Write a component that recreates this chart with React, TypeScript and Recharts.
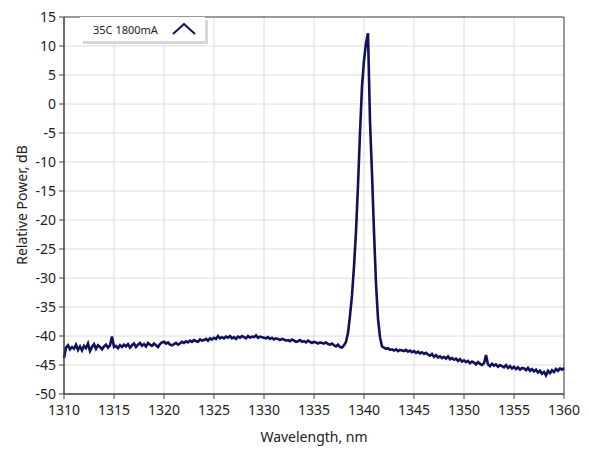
import { LineChart, Line, XAxis, YAxis, CartesianGrid, Legend, ReferenceArea } from 'recharts'

const seriesName = '35C 1800mA'
const xTicks = [1310, 1315, 1320, 1325, 1330, 1335, 1340, 1345, 1350, 1355, 1360]
const yTicks = [15, 10, 5, 0, -5, -10, -15, -20, -25, -30, -35, -40, -45, -50]

// samples every 0.2 nm starting at 1310 nm
const leftBaseline = [
  -43.8, -42.0, -41.6, -42.3, -41.9, -42.2, -41.5, -42.4, -41.8, -42.5,
  -41.7, -42.1, -41.3, -42.6, -41.9, -41.4, -42.2, -41.6, -41.9, -42.3,
  -41.8, -41.5, -42.0, -41.6, -40.1, -41.9, -41.7, -42.1, -41.6, -41.9,
  -41.5, -41.8, -41.4, -42.0, -41.6, -41.3, -41.9, -41.5, -41.2, -41.7,
  -41.4, -41.8, -41.2, -41.5, -41.7, -41.3, -41.6, -41.9, -41.4, -41.1,
  -41.0, -41.3, -41.1, -41.5, -41.6, -41.4, -41.2, -41.5, -41.3, -41.0,
  -41.2, -40.9, -41.1, -40.8, -41.0, -40.7, -40.9, -41.0, -40.6, -40.8,
  -40.7, -40.5, -40.8, -40.4, -40.6, -40.3, -40.5, -40.0, -40.4, -40.2,
  -40.4, -40.1, -40.3, -40.0, -40.4, -40.2, -40.5, -40.1, -40.3, -40.0,
  -40.2, -40.4, -40.0, -40.3, -40.1, -40.2, -39.9, -40.3, -40.1, -40.2,
  -40.3, -40.4, -40.2, -40.5, -40.3, -40.6, -40.4, -40.5, -40.7, -40.5,
  -40.6, -40.8, -40.7, -40.9, -40.6, -40.8, -41.0, -40.9, -40.7, -41.0,
  -40.9, -41.1, -40.8, -41.0, -41.2, -41.0, -41.1, -41.3, -41.1, -41.2,
  -41.3, -41.1, -41.4, -41.5, -41.3, -41.6, -41.8, -41.5, -41.9, -42.0,
  -41.6,
]

const peak = [
  -41.0, -39.5, -36.5, -33.0, -28.0, -22.0, -14.0, -5.0, 3.0, 7.5,
  10.5, 12.2, -3.0, -12.0, -22.0, -31.0, -37.0, -40.2, -41.8,
]

const rightBaseline = [
  -42.0, -42.2, -42.1, -42.4, -42.3, -42.5, -42.3, -42.6, -42.4, -42.5,
  -42.6, -42.4, -42.7, -42.5, -42.8, -42.6, -42.9, -42.7, -43.0, -42.8,
  -43.1, -42.9, -43.2, -43.4, -43.1, -43.6, -43.3, -43.7, -43.5, -43.8,
  -43.6, -43.9, -43.5, -44.0, -43.8, -44.1, -43.9, -44.3, -44.0, -44.4,
  -44.2, -44.5, -44.3, -44.7, -44.4, -44.6, -44.9, -44.5, -44.8, -45.0,
  -44.7, -43.3, -44.9, -45.2, -44.8, -45.1, -44.9, -45.3, -45.0, -45.2,
  -45.4, -45.0, -45.5, -45.2, -45.6, -45.3, -45.7, -45.4, -45.8, -45.5,
  -45.6, -45.9, -45.5, -46.0, -45.7, -46.1, -45.8, -46.3, -46.0, -46.5,
  -46.2, -46.8, -46.0, -46.4, -45.9, -46.2, -45.7, -46.0, -45.6, -45.8,
  -45.5,
]

const power = [...leftBaseline, ...peak, ...rightBaseline]
const data = power.map((p, i) => ({ wl: Math.round((1310 + i * 0.2) * 10) / 10, p }))

const lineColor = '#10105c'
const font = "'Noto Sans', sans-serif"

const LegendBox = () => (
  <div
    style={{
      width: 112,
      height: 24,
      paddingLeft: 13,
      background: '#fff',
      boxShadow: '3px 3px 0 #d6d6d6',
      display: 'flex',
      alignItems: 'center',
      fontFamily: font,
      fontSize: 11,
      color: '#222',
    }}
  >
    <span>{seriesName}</span>
    <svg width={24} height={12} style={{ marginLeft: 14 }}>
      <polyline points="1,11 12,1 23,11" fill="none" stroke={lineColor} strokeWidth={2} />
    </svg>
  </div>
)

export default function App() {
  return (
    <div style={{ position: 'absolute', left: 0, top: 0, background: '#fff' }}>
      <LineChart width={589} height={456} data={data} margin={{ top: 17, right: 25, bottom: 0, left: 0 }}>
        <CartesianGrid stroke="#dcdcdc" />
        <XAxis
          dataKey="wl"
          type="number"
          domain={[1310, 1360]}
          ticks={xTicks}
          height={62}
          tickSize={5}
          tickMargin={6}
          stroke="#444"
          tick={{ fill: '#222', fontSize: 14, fontFamily: font }}
          label={{ value: 'Wavelength, nm', position: 'insideBottom', offset: 14, fill: '#222', fontSize: 14, fontFamily: font }}
        />
        <YAxis
          type="number"
          domain={[-50, 15]}
          ticks={yTicks}
          width={64}
          tickSize={5}
          tickMargin={3}
          stroke="#444"
          tick={{ fill: '#222', fontSize: 14, fontFamily: font }}
          label={{
            content: () => (
              <text
                x={21}
                y={205}
                transform="rotate(-90 21 205)"
                textAnchor="middle"
                dominantBaseline="central"
                fill="#222"
                fontSize={14}
                fontFamily={font}
              >
                Relative Power, dB
              </text>
            ),
          }}
        />
        <ReferenceArea x1={1310} x2={1360} y1={-50} y2={15} fill="none" stroke="#444" strokeOpacity={1} />
        <Legend
          layout="horizontal"
          verticalAlign="middle"
          align="center"
          wrapperStyle={{ top: 17, left: 80, width: 'auto' }}
          content={() => <LegendBox />}
        />
        <Line
          type="linear"
          dataKey="p"
          name={seriesName}
          stroke={lineColor}
          strokeWidth={2.6}
          dot={false}
          isAnimationActive={false}
        />
      </LineChart>
    </div>
  )
}
